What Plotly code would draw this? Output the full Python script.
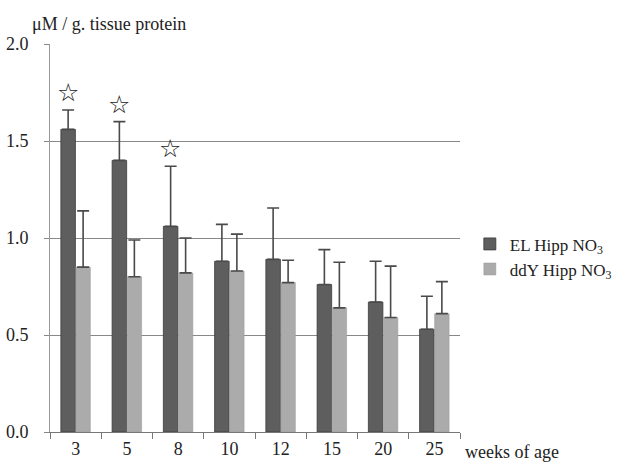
import plotly.graph_objects as go

weeks = ["3", "5", "8", "10", "12", "15", "20", "25"]
el_mean = [1.56, 1.40, 1.06, 0.88, 0.89, 0.76, 0.67, 0.53]
el_sd = [0.10, 0.20, 0.31, 0.19, 0.265, 0.18, 0.21, 0.17]
ddy_mean = [0.85, 0.80, 0.82, 0.83, 0.77, 0.64, 0.59, 0.61]
ddy_sd = [0.29, 0.19, 0.18, 0.19, 0.115, 0.235, 0.265, 0.165]
star_weeks = ["3", "5", "8"]

serif = "Liberation Serif, Times New Roman, serif"
err_col = "#4a4a4a"

fig = go.Figure()
fig.add_trace(go.Bar(
    x=weeks, y=el_mean, name="EL Hipp NO<sub>3</sub>",
    marker=dict(color="#5e5e5e", line=dict(color="#3a3a3a", width=0.8)),
    error_y=dict(type="data", symmetric=False, array=el_sd,
                 arrayminus=[0] * len(el_sd), color=err_col, thickness=1.6, width=6),
))
fig.add_trace(go.Bar(
    x=weeks, y=ddy_mean, name="ddY Hipp NO<sub>3</sub>",
    marker=dict(color="#ababab", line=dict(color="#9a9a9a", width=0.5)),
    error_y=dict(type="data", symmetric=False, array=ddy_sd,
                 arrayminus=[0] * len(ddy_sd), color=err_col, thickness=1.6, width=6),
))

for w in star_weeks:
    i = weeks.index(w)
    fig.add_annotation(x=i, y=el_mean[i] + el_sd[i], xref="x", yref="y",
                       text="☆", showarrow=False, xshift=-8, yanchor="bottom", yshift=1,
                       font=dict(family="DejaVu Sans", size=25, color="#222"))

fig.add_annotation(x=0, y=1.0, xref="paper", yref="paper", xanchor="left", yanchor="bottom",
                   xshift=-20, yshift=8, text="μM / g. tissue protein", showarrow=False,
                   font=dict(family=serif, size=18, color="#222"))
fig.add_annotation(x=1.0, y=0, xref="paper", yref="paper", xanchor="left", yanchor="top",
                   xshift=3, yshift=-8, text="weeks of age", showarrow=False,
                   font=dict(family=serif, size=18, color="#222"))

fig.update_layout(
    width=627, height=468,
    margin=dict(l=50, r=167, t=44, b=36, autoexpand=False),
    paper_bgcolor="white", plot_bgcolor="white",
    barmode="group", bargap=0.415, bargroupgap=0.03,
    font=dict(family=serif, size=18, color="#222"),
    showlegend=True,
    legend=dict(x=1.024, y=0.53, xanchor="left", yanchor="top",
                font=dict(family=serif, size=17, color="#222"),
                tracegroupgap=4, itemwidth=30),
    xaxis=dict(type="category", showline=True, linecolor="#777", linewidth=1,
               ticks="outside", tickson="boundaries", ticklen=6, tickcolor="#777",
               showgrid=False, tickfont=dict(family=serif, size=18)),
    yaxis=dict(range=[0, 2.0], tickvals=[0, 0.5, 1.0, 1.5, 2.0],
               ticktext=["0.0", "0.5", "1.0", "1.5", "2.0"],
               showline=True, linecolor="#999", linewidth=1,
               ticks="outside", ticklen=5, tickcolor="#888", ticklabelstandoff=12,
               showgrid=True, gridcolor="#888", gridwidth=1, zeroline=False,
               tickfont=dict(family=serif, size=18)),
)

fig.write_html("out.html")
